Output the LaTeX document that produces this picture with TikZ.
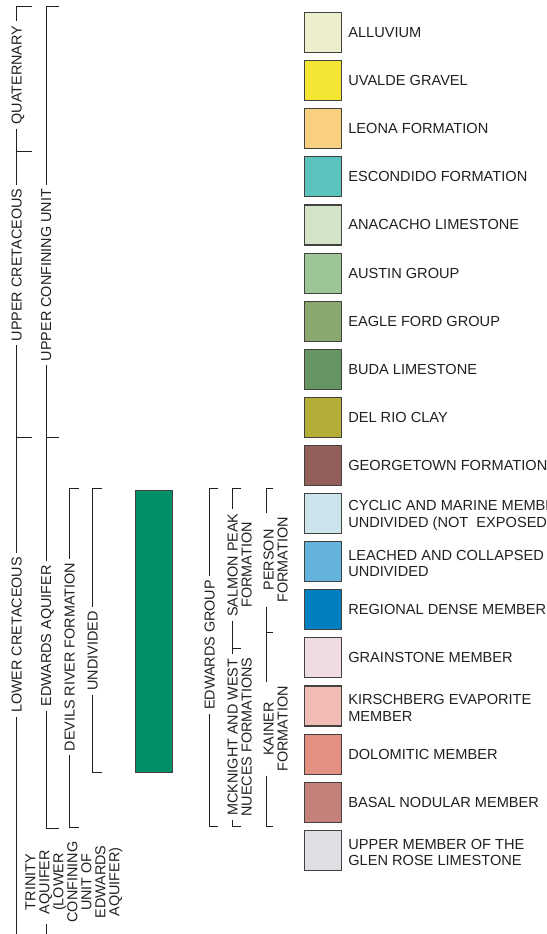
\documentclass[tikz,border=0pt]{standalone}
\usepackage{fontspec}
\setmainfont{Liberation Sans}
\definecolor{ink}{HTML}{231F20}
\definecolor{cAll}{HTML}{EDEECB}
\definecolor{cUva}{HTML}{F5E634}
\definecolor{cLeo}{HTML}{F9CF80}
\definecolor{cEsc}{HTML}{5AC3BE}
\definecolor{cAna}{HTML}{D3E4C8}
\definecolor{cAus}{HTML}{9DC595}
\definecolor{cEag}{HTML}{8AA86D}
\definecolor{cBud}{HTML}{659560}
\definecolor{cDel}{HTML}{B4AE38}
\definecolor{cGeo}{HTML}{925F5B}
\definecolor{cCyc}{HTML}{CCE4EC}
\definecolor{cLea}{HTML}{63B3DD}
\definecolor{cReg}{HTML}{0080C0}
\definecolor{cGra}{HTML}{EFDBE4}
\definecolor{cKir}{HTML}{F1BBB6}
\definecolor{cDol}{HTML}{E38F82}
\definecolor{cBas}{HTML}{C6807A}
\definecolor{cGle}{HTML}{DEDFE3}
\definecolor{cBar}{HTML}{008F69}
\newcommand\legitem[5][0pt]{%
  \node[key, fill=#4] (#3) at (304,{12+48.1*#2}) {};
  \node[ktext] (#3t) at ([xshift=6pt,yshift=#1]#3.east) {#5};
}
\begin{document}
\begin{tikzpicture}[x=1pt,y=-1pt,
  key/.style={draw=ink!85, line width=1.1pt, minimum width=37pt, minimum height=40pt, inner sep=0pt, anchor=north west},
  ktext/.style={anchor=west, inner sep=0pt, align=left, text=ink, font=\fontsize{14.6}{16.5}\selectfont},
  lbl/.style={rotate=90, inner xsep=4pt, inner ysep=0pt, text height=10.4pt, text depth=0pt, text=ink, font=\fontsize{14.4}{14}\selectfont},
  brk/.style={draw=ink, line width=0.8pt}]
\useasboundingbox (0,0) rectangle (546,934);
\clip (0,0) rectangle (546,934);

% ---------- legend ----------
\legitem{0}{all}{cAll}{ALLUVIUM}
\legitem{1}{uva}{cUva}{UVALDE GRAVEL}
\legitem{2}{leo}{cLeo}{LEONA FORMATION}
\legitem{3}{esc}{cEsc}{ESCONDIDO FORMATION}
\legitem{4}{ana}{cAna}{ANACACHO LIMESTONE}
\legitem{5}{aus}{cAus}{AUSTIN GROUP}
\legitem{6}{eag}{cEag}{EAGLE FORD GROUP}
\legitem{7}{bud}{cBud}{BUDA LIMESTONE}
\legitem{8}{del}{cDel}{DEL RIO CLAY}
\legitem{9}{geo}{cGeo}{GEORGETOWN FORMATION}
\legitem[-2pt]{10}{cyc}{cCyc}{CYCLIC AND MARINE MEMBERS,\\UNDIVIDED (NOT\ \ EXPOSED)}
\legitem[-2pt]{11}{lea}{cLea}{LEACHED AND COLLAPSED\\UNDIVIDED}
\legitem{12}{reg}{cReg}{REGIONAL DENSE MEMBER}
\legitem{13}{gra}{cGra}{GRAINSTONE MEMBER}
\legitem[-2pt]{14}{kir}{cKir}{KIRSCHBERG EVAPORITE\\MEMBER}
\legitem{15}{dol}{cDol}{DOLOMITIC MEMBER}
\legitem{16}{bas}{cBas}{BASAL NODULAR MEMBER}
\legitem[-2pt]{17}{gle}{cGle}{UPPER MEMBER OF THE\\GLEN ROSE LIMESTONE}

% ---------- column 1: systems ----------
\coordinate (a0) at (16.5,6);   \coordinate (a0t) at (32,6);
\coordinate (a1) at (16.5,151); \coordinate (a1t) at (32,151);
\coordinate (a2) at (16.5,437); \coordinate (a2t) at (32,437);
\coordinate (a3) at (16.5,934);
\node[lbl] (quat) at (16.5,75) {QUATERNARY};
\node[lbl] (ucret) at (16.5,265) {UPPER CRETACEOUS};
\node[lbl] (lcret) at (16.5,635) {LOWER CRETACEOUS};
\draw[brk] (a0t) -- (a0) -- (quat.east);
\draw[brk] (quat.west) -- (ucret.east);
\draw[brk] (a1) -- (a1t);
\draw[brk] (ucret.west) -- (lcret.east);
\draw[brk] (a2) -- (a2t);
\draw[brk] (lcret.west) -- (a3);

% ---------- column 2: hydrogeologic units ----------
\coordinate (b0) at (46,6);   \coordinate (b0t) at (59,6);
\coordinate (b1) at (46,437); \coordinate (b1t) at (59,437);
\coordinate (b2) at (46,828); \coordinate (b2t) at (59,828);
\coordinate (b3) at (46,924); \coordinate (b4) at (46,934);
\node[lbl] (ucu) at (46,275) {UPPER CONFINING UNIT};
\node[lbl] (eaq) at (46,636) {EDWARDS AQUIFER};
\node[rotate=90, align=center, inner sep=0pt, text=ink, font=\fontsize{14.4}{14}\selectfont]
  (trin) at (74,882) {TRINITY\\AQUIFER\\(LOWER\\CONFINING\\UNIT OF\\EDWARDS\\AQUIFER)};
\draw[brk] (b0t) -- (b0) -- (ucu.east);
\draw[brk] (ucu.west) -- (eaq.east);
\draw[brk] (b1) -- (b1t);
\draw[brk] (eaq.west) -- (b2) -- (b2t);
\draw[brk] (b3) -- (b4);

% ---------- column 3/4: Devils River ----------
\coordinate (d0) at (69.5,488); \coordinate (d0t) at (79,488);
\coordinate (d1) at (69.5,827); \coordinate (d1t) at (79,827);
\node[lbl] (drf) at (69.5,657) {DEVILS RIVER FORMATION};
\draw[brk] (d0t) -- (d0) -- (drf.east);
\draw[brk] (drf.west) -- (d1) -- (d1t);
\coordinate (u0) at (92.5,488); \coordinate (u0t) at (102,488);
\coordinate (u1) at (92.5,772); \coordinate (u1t) at (102,772);
\node[lbl] (und) at (92.5,651) {UNDIVIDED};
\draw[brk] (u0t) -- (u0) -- (und.east);
\draw[brk] (und.west) -- (u1) -- (u1t);

\node[draw=ink!85, line width=1pt, fill=cBar, minimum width=37pt, minimum height=282pt, inner sep=0pt, anchor=north west] (bar) at (135,490) {};

% ---------- Edwards Group ----------
\coordinate (e0) at (209.5,488); \coordinate (e0t) at (218,488);
\coordinate (e1) at (209.5,826); \coordinate (e1t) at (218,826);
\node[lbl] (edg) at (209.5,645) {EDWARDS GROUP};
\draw[brk] (e0t) -- (e0) -- (edg.east);
\draw[brk] (edg.west) -- (e1) -- (e1t);

\coordinate (s0) at (232.5,488); \coordinate (s0t) at (241,488);
\coordinate (s1) at (232.5,648); \coordinate (s1t) at (241,648);
\coordinate (s2) at (232.5,826); \coordinate (s2t) at (241,826);
\node[lbl] (salm) at (232.5,565) {SALMON PEAK};
\node[lbl] (salm2) at (246.5,565) {FORMATION};
\node[lbl] (mck) at (232.5,737) {MCKNIGHT AND WEST};
\node[lbl] (mck2) at (246.5,737) {NUECES FORMATIONS};
\draw[brk] (s0t) -- (s0) -- (salm.east);
\draw[brk] (salm.west) -- (mck.east);
\draw[brk] (s1) -- (s1t);
\draw[brk] (mck.west) -- (s2) -- (s2t);

\coordinate (p0) at (266,488); \coordinate (p0t) at (273,488);
\coordinate (p1) at (266,632); \coordinate (p1t) at (273,632);
\coordinate (p2) at (266,826); \coordinate (p2t) at (273,826);
\node[lbl] (pers) at (268.5,560) {PERSON};
\node[lbl] (pers2) at (282.5,560) {FORMATION};
\node[lbl] (kain) at (268.5,729) {KAINER};
\node[lbl] (kain2) at (282.5,729) {FORMATION};
\draw[brk] (p0t) -- (p0) -- (p0 |- pers2.east);
\draw[brk] (p0 |- pers2.west) -- (p0 |- kain2.east);
\draw[brk] (p1) -- (p1t);
\draw[brk] (p0 |- kain2.west) -- (p2) -- (p2t);
\end{tikzpicture}
\end{document}
